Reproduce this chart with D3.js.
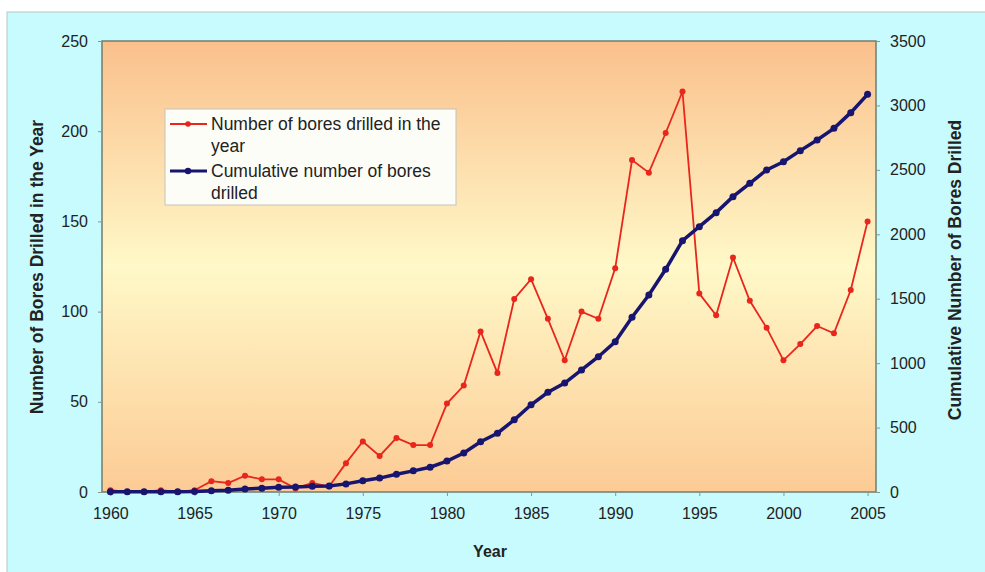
<!DOCTYPE html>
<html>
<head>
<meta charset="utf-8">
<script src="https://cdn.jsdelivr.net/npm/d3@7"></script>
<style>
  body { margin: 0; background: #fff; }
  text { font-family: "Liberation Sans", Arial, sans-serif; fill: #222; }
</style>
</head>
<body>
<svg id="chart" width="985" height="572"></svg>
<script>
// Years on the category axis
const years = d3.range(1960, 2006);

// Bores drilled in each year (left axis)
const boresPerYear = [1, 0, 0, 1, 0, 1, 6, 5, 9, 7, 7, 2, 5, 3, 16,
  28, 20, 30, 26, 26, 49, 59, 89, 66, 107, 118, 96, 73, 100, 96,
  124, 184, 177, 199, 222, 110, 98, 130, 106, 91, 73, 82, 92, 88, 112, 150];

// Cumulative bores drilled (right axis)
const cumulativeBores = [1, 1, 1, 2, 2, 3, 9, 14, 23, 30, 37, 39, 44, 47, 63,
  88, 108, 138, 164, 192, 240, 303, 390, 456, 560, 677, 774, 845, 947, 1050,
  1166, 1356, 1529, 1728, 1950, 2059, 2168, 2292, 2396, 2499, 2563, 2649, 2732, 2822, 2944, 3086];

const leftTicks = [0, 50, 100, 150, 200, 250];
const rightTicks = [0, 500, 1000, 1500, 2000, 2500, 3000, 3500];
const yearLabels = [1960, 1965, 1970, 1975, 1980, 1985, 1990, 1995, 2000, 2005];

const svg = d3.select("#chart");

// outer panel
svg.append("rect")
  .attr("x", 7).attr("y", 12).attr("width", 985).attr("height", 570)
  .attr("fill", "#c8fbfd").attr("stroke", "#b8c8c8");

const plotL = 102, plotR = 876, plotT = 41, plotB = 492;

// background gradient of the plot area
const grad = svg.append("defs").append("linearGradient")
  .attr("id", "bg").attr("x1", 0).attr("y1", 0).attr("x2", 0).attr("y2", 1);
grad.append("stop").attr("offset", "0%").attr("stop-color", "#fac08c");
grad.append("stop").attr("offset", "50%").attr("stop-color", "#fff8c8");
grad.append("stop").attr("offset", "100%").attr("stop-color", "#fccb95");

svg.append("rect")
  .attr("x", plotL).attr("y", plotT).attr("width", plotR - plotL).attr("height", plotB - plotT)
  .attr("fill", "url(#bg)").attr("stroke", "#6f7d70").attr("stroke-width", 1.5);

// scales
const x = d3.scalePoint().domain(years).range([plotL, plotR]).padding(0.5);
const yLeft = d3.scaleLinear().domain([0, 250]).range([plotB, plotT]);
const yRight = d3.scaleLinear().domain([0, 3500]).range([plotB, plotT]);

// axes
const axL = svg.append("g")
  .attr("transform", `translate(${plotL},0)`)
  .call(d3.axisLeft(yLeft).tickValues(leftTicks).tickSize(4).tickPadding(10));
const axR = svg.append("g")
  .attr("transform", `translate(${plotR},0)`)
  .call(d3.axisRight(yRight).tickValues(rightTicks).tickFormat(d3.format("d")).tickSize(4).tickPadding(10));
const axB = svg.append("g")
  .attr("transform", `translate(0,${plotB})`)
  .call(d3.axisBottom(x).tickValues(yearLabels).tickSize(4).tickPadding(12));

[axL, axR, axB].forEach(g => {
  g.select(".domain").remove();
  g.selectAll(".tick line").attr("stroke", "#8a968a");
  g.selectAll(".tick text").style("font-size", "16px").attr("fill", "#222");
});

// axis titles
svg.append("text")
  .attr("transform", "rotate(-90)")
  .attr("x", -267).attr("y", 43)
  .style("text-anchor", "middle").style("font-size", "17.5px").style("font-weight", "bold")
  .text("Number of Bores Drilled in the Year");

svg.append("text")
  .attr("transform", "rotate(-90)")
  .attr("x", -270).attr("y", 961)
  .style("text-anchor", "middle").style("font-size", "17.5px").style("font-weight", "bold")
  .text("Cumulative Number of Bores Drilled");

svg.append("text")
  .attr("x", 490).attr("y", 557)
  .style("text-anchor", "middle").style("font-size", "16px").style("font-weight", "bold")
  .text("Year");

// series
const red = "#e8261c", navy = "#17156f";

const redLine = d3.line().x((d, i) => x(years[i])).y(d => yLeft(d));
const blueLine = d3.line().x((d, i) => x(years[i])).y(d => yRight(d));

svg.append("path").datum(boresPerYear)
  .attr("d", redLine).attr("fill", "none").attr("stroke", red).attr("stroke-width", 1.8);
svg.append("g").selectAll("circle").data(boresPerYear).join("circle")
  .attr("cx", (d, i) => x(years[i])).attr("cy", d => yLeft(d))
  .attr("r", 3).attr("fill", red);

svg.append("path").datum(cumulativeBores)
  .attr("d", blueLine).attr("fill", "none").attr("stroke", navy).attr("stroke-width", 3.5);
svg.append("g").selectAll("circle").data(cumulativeBores).join("circle")
  .attr("cx", (d, i) => x(years[i])).attr("cy", d => yRight(d))
  .attr("r", 3.5).attr("fill", navy);

// legend
const lg = svg.append("g");
lg.append("rect")
  .attr("x", 165).attr("y", 109).attr("width", 291).attr("height", 96)
  .attr("fill", "#fdfdf8").attr("stroke", "#c4c4bc");

const legendItems = [
  {color: red, w: 1.8, r: 2.8, lines: ["Number of bores drilled in the", "year"], y: 124},
  {color: navy, w: 3, r: 3.2, lines: ["Cumulative number of bores", "drilled"], y: 171}
];
legendItems.forEach(it => {
  lg.append("line").attr("x1", 170).attr("x2", 207).attr("y1", it.y).attr("y2", it.y)
    .attr("stroke", it.color).attr("stroke-width", it.w);
  lg.append("circle").attr("cx", 188).attr("cy", it.y).attr("r", it.r).attr("fill", it.color);
  it.lines.forEach((t, j) => {
    lg.append("text").attr("x", 211).attr("y", it.y + 6 + j * 22)
      .style("font-size", "17.5px").text(t);
  });
});
</script>
</body>
</html>
